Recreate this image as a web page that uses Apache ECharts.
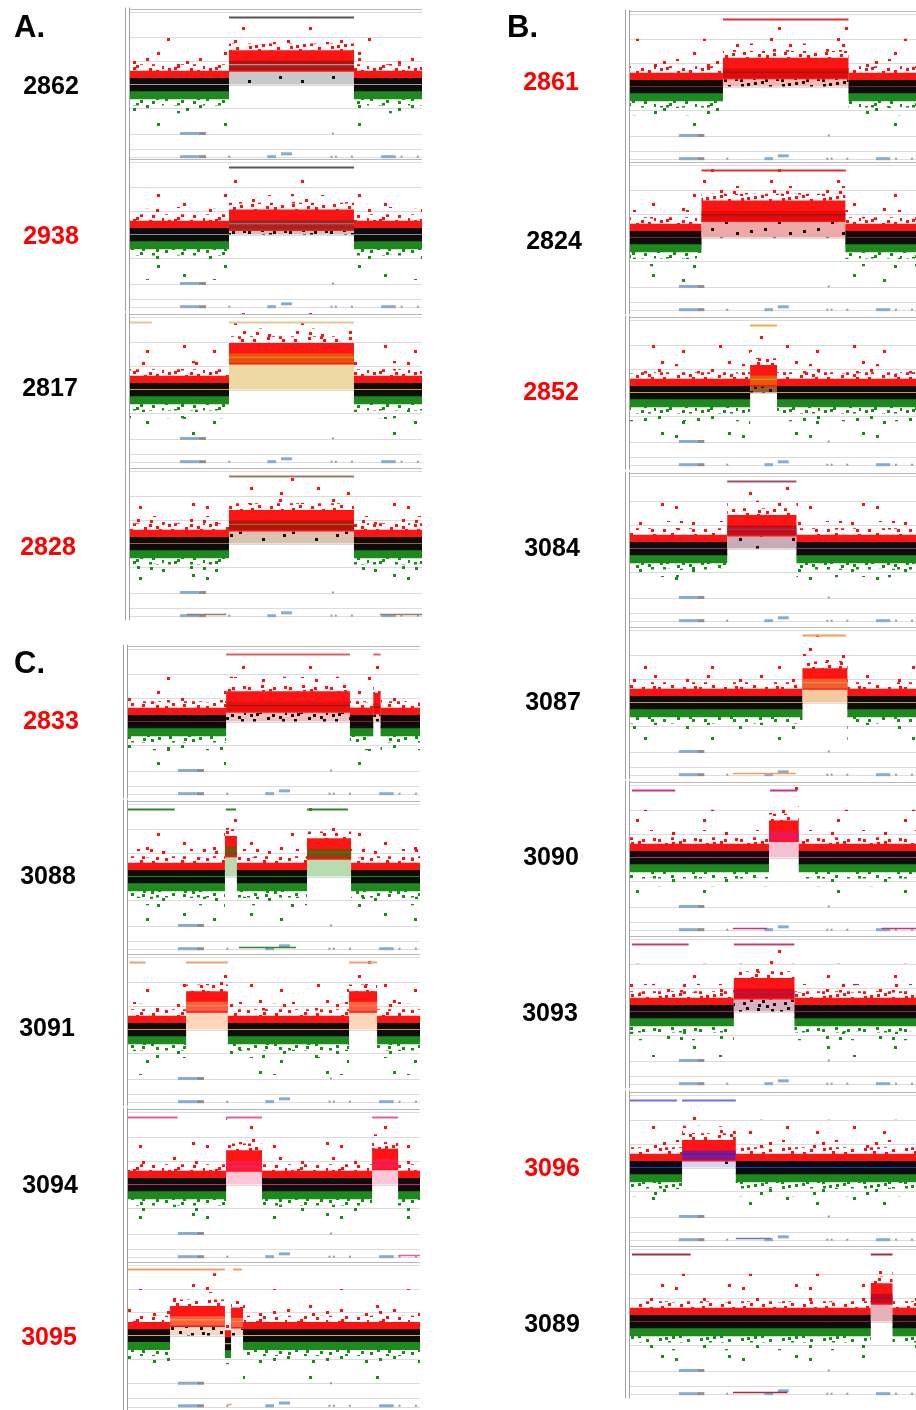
<!DOCTYPE html>
<html><head><meta charset="utf-8">
<script src="https://cdn.jsdelivr.net/npm/echarts@6/dist/echarts.min.js"></script>
<style>html,body{margin:0;padding:0;background:#fff}#c{width:916px;height:1410px}</style>
</head><body><div id="c"></div><script>
// ---------------- DATA ----------------
const SAMPLES_A = ['2862','2938','2817','2828'];
const SAMPLES_B = ['2861','2824','2852','3084','3087','3090','3093','3096','3089'];
const SAMPLES_C = ['2833','3088','3091','3094','3095'];
const RED_LABELS = ['2938','2828','2861','2852','3096','2833','3095'];

// segments: [start %, end %, log2 ratio level]
const SEG_2862 = [[0,33.9,0],[33.9,76.7,0.83],[76.7,100,0]];
const SEG_2938 = [[0,33.9,0],[33.9,76.7,0.45],[76.7,100,0]];
const SEG_2817 = [[0,33.9,0],[33.9,76.7,1.35],[76.7,100,0]];
const SEG_2828 = [[0,33.9,0],[33.9,76.7,0.8],[76.7,100,0]];
const SEG_2861 = [[0,32.5,0],[32.5,76.4,0.6],[76.4,100,0]];
const SEG_2824 = [[0,25,0],[25,75.3,0.95],[75.3,100,0]];
const SEG_2852 = [[0,42,0],[42,51.4,0.55],[51.4,100,0]];
const SEG_3084 = [[0,34,0],[34,58.2,0.8],[58.2,100,0]];
const SEG_3087 = [[0,60.3,0],[60.3,76,0.83],[76,100,0]];
const SEG_3090 = [[0,48.6,0],[48.6,59,0.95],[59,100,0]];
const SEG_3093 = [[0,36.3,0],[36.3,57.5,0.8],[57.5,100,0]];
const SEG_3096 = [[0,18.2,0],[18.2,37,0.55],[37,100,0]];
const SEG_3089 = [[0,84.2,0],[84.2,91.8,1.0],[91.8,100,0]];
const SEG_2833 = [[0,33.6,0],[33.6,76,0.67],[76,84,0],[84,86.5,0.6],[86.5,100,0]];
const SEG_3088 = [[0,33.2,0],[33.2,37.3,1.1],[37.3,61.3,0],[61.3,76.4,1.0],[76.4,100,0]];
const SEG_3091 = [[0,19.9,0],[19.9,34.2,1.0],[34.2,75.7,0],[75.7,85.3,1.0],[85.3,100,0]];
const SEG_3094 = [[0,33.6,0],[33.6,45.9,0.83],[45.9,83.6,0],[83.6,92.5,0.9],[92.5,100,0]];
const SEG_3095 = [[0,14.4,0],[14.4,33.2,0.67],[33.2,35.3,-0.35],[35.3,39.4,0.6],[39.4,100,0]];

// aberration call bars at top of each panel: [start %, end %]
const TOP_2862 = [[33.9,76.7]];
const TOP_2938 = [[33.9,76.7]];
const TOP_2817 = [[0,7.5],[33.9,76.7]];
const TOP_2828 = [[33.9,76.7]];
const TOP_2861 = [[32.5,76.4]];
const TOP_2824 = [[25,75.3]];
const TOP_2852 = [[42,51.4]];
const TOP_3084 = [[34,58.2]];
const TOP_3087 = [[60.3,75.5]];
const TOP_3090 = [[0.7,15.8],[49,58.5]];
const TOP_3093 = [[0.7,20.5],[36.3,57.5]];
const TOP_3096 = [[0,16.4],[18.2,37]];
const TOP_3089 = [[0.7,21.2],[84.2,91.8]];
const TOP_2833 = [[33.6,76],[84,86.5]];
const TOP_3088 = [[0,16],[33.5,37],[61.3,75.3]];
const TOP_3091 = [[0.5,6],[19.9,34.2],[75.7,85.3]];
const TOP_3094 = [[0,17],[33.6,45.9],[83.6,92.5]];
const TOP_3095 = [[0,33.2],[36,39]];

// call bars in the bottom (gene) track: [start %, end %]
const BOT_2828 = [[19.5,33],[85.6,100]];
const BOT_3087 = [[36,58]];
const BOT_3090 = [[36,48],[88,100]];
const BOT_3096 = [[37,49.3]];
const BOT_3089 = [[36,55]];
const BOT_3088 = [[38,57.5]];
const BOT_3094 = [[92.5,100]];
const BOT_3095 = [[34,35.5]];

// y gridlines (log2 ratio) and gene track
const GRID_LEVELS = [3.15, 3.03, 2, 1, 0, -1, -2.05, -2.68, -3.05];
const GENE_BARS = [[17.1,23.5,-2.05],[17.1,23.5,-3.02],[47,50,-3.02],[51.7,55.5,-2.9],[86,91,-3.02]];
const GENE_GRAY = [[23.5,26,-2.05],[23.5,26,-3.02]];
const GENE_DOTS = [[69.5,-2.05],[34,-3.02],[69,-3.02],[70.5,-3.02],[76,-3.02],[93,-3.02],[98.6,-3.02]];

// ---------------- LAYOUT / STYLE ----------------
const SEGS = {'2862':SEG_2862,'2938':SEG_2938,'2817':SEG_2817,'2828':SEG_2828,'2861':SEG_2861,'2824':SEG_2824,'2852':SEG_2852,'3084':SEG_3084,'3087':SEG_3087,'3090':SEG_3090,'3093':SEG_3093,'3096':SEG_3096,'3089':SEG_3089,'2833':SEG_2833,'3088':SEG_3088,'3091':SEG_3091,'3094':SEG_3094,'3095':SEG_3095};
const TOPS = {'2862':TOP_2862,'2938':TOP_2938,'2817':TOP_2817,'2828':TOP_2828,'2861':TOP_2861,'2824':TOP_2824,'2852':TOP_2852,'3084':TOP_3084,'3087':TOP_3087,'3090':TOP_3090,'3093':TOP_3093,'3096':TOP_3096,'3089':TOP_3089,'2833':TOP_2833,'3088':TOP_3088,'3091':TOP_3091,'3094':TOP_3094,'3095':TOP_3095};
const BOTS = {'2828':BOT_2828,'3087':BOT_3087,'3090':BOT_3090,'3096':BOT_3096,'3089':BOT_3089,'3088':BOT_3088,'3094':BOT_3094,'3095':BOT_3095};

const STYLE = {
 '2862':{avg:'#9a9a9a',fill:'#c8c8c8',inner:'rgba(150,20,20,0.75)',top:'#555555',dark:0.4},
 '2938':{avg:'#8a8a8a',fill:'#c4c4c4',inner:'rgba(120,40,40,0.6)',top:'#555555',dark:1},
 '2817':{avg:'#d4a017',fill:'#efd9a3',inner:'rgba(230,90,10,0.85)',top:'#e6c88c',dark:0},
 '2828':{avg:'#a0651a',fill:'#d9c2b0',inner:'rgba(150,20,10,0.7)',top:'#a07a60',dark:0.5},
 '2861':{avg:'#8b1a1a',fill:'#f2b8b8',inner:'rgba(200,0,0,0.45)',top:'#e03030',dark:1},
 '2824':{avg:'#8b1a1a',fill:'#eea8a8',inner:'rgba(200,0,0,0.45)',top:'#e03030',dark:0.4},
 '2852':{avg:'#c8a030',fill:'#9a6030',inner:'rgba(230,100,10,0.85)',top:'#e8b040',dark:1},
 '3084':{avg:'#9a3a60',fill:'#c9aab8',inner:'rgba(160,10,30,0.65)',top:'#a05068',dark:0.4},
 '3087':{avg:'#d09a40',fill:'#f3c9a0',inner:'rgba(240,110,50,0.8)',top:'#f0a050',dark:0},
 '3090':{avg:'#d0207a',fill:'#f6c0d4',inner:'rgba(240,20,90,0.7)',top:'#d03080',dark:0},
 '3093':{avg:'#a02055',fill:'#d8b0c0',inner:'rgba(180,0,40,0.55)',top:'#c04070',dark:1},
 '3096':{avg:'#2030d0',fill:'#d4d4f4',inner:'rgba(110,20,170,0.75)',top:'#7070e0',dark:0.4},
 '3089':{avg:'#8b1a2a',fill:'#e8b0b8',inner:'rgba(170,0,40,0.6)',top:'#a03040',dark:0},
 '2833':{avg:'#8b1a1a',fill:'#f2c0c0',inner:'rgba(200,0,0,0.35)',top:'#e06060',dark:1},
 '3088':{avg:'#1e8a1e',fill:'#b8dcb0',inner:'rgba(130,70,10,0.85)',top:'#2a8a2a',dark:0},
 '3091':{avg:'#d09050',fill:'#ffd4b8',inner:'rgba(255,110,80,0.8)',top:'#f0a070',dark:0},
 '3094':{avg:'#d02070',fill:'#ffc4d8',inner:'rgba(255,30,80,0.7)',top:'#e060a0',dark:0},
 '3095':{avg:'#e0a050',fill:'#f0d8c8',inner:'rgba(255,120,80,0.75)',top:'#f0a060',dark:1}
};

const LAYOUT = {};
[[SAMPLES_A,130,[8,158,313,467],[51,51,50,48],[87,237,389,548]],
 [SAMPLES_B,630,[10,161,316,472,626,781,935,1091,1245],[551,554,551,552,553,551,550,552,552],[83,242,393,549,703,858,1014,1169,1325]],
 [SAMPLES_C,128,[645,800,953,1108,1261],[51,48,47,50,49],[722,877,1029,1186,1338]]
].forEach(([names,left,tops,lx,ly]) => names.forEach((n,i)=>{LAYOUT[n]={left,top:tops[i],lx:lx[i],ly:ly[i]};}));

const PANEL_W = 292, PANEL_H = 153, TOP_Y = 2.84, BOT_Y = -2.93;

// dotted textures to suggest scattered probes (fixed hand-placed tiles)
function dotPattern(color, w, h, pts, s){
  const cv = document.createElement('canvas'); cv.width=w; cv.height=h;
  const ctx = cv.getContext('2d'); ctx.fillStyle=color;
  pts.forEach(p=>ctx.fillRect(p[0],p[1],s,s));
  return {image:cv, repeat:'repeat'};
}
const MED_PTS = [[2,3],[9,7],[15,1],[23,5],[31,9],[38,2],[5,14],[12,11],[20,16],[27,3],[35,15],[1,22],[8,19],[17,24],[24,12],[33,21],[39,28],[4,30],[13,27],[21,33],[29,25],[36,35],[7,35],[16,6],[26,30],[33,32],[19,20],[10,29],[28,17],[3,8]];
const SPARSE_PTS = [[3,5],[27,14],[44,3],[14,29],[36,33],[50,21],[8,42],[22,40],[47,44],[31,2],[18,17],[40,11]];
const VSPARSE_PTS = [[5,9],[41,27],[23,52],[58,6],[12,66],[49,61],[33,38]];
const PAT_RED_MED = dotPattern('#ff1010',41,38,MED_PTS,3);
const PAT_RED_SP = dotPattern('#ff1010',53,47,SPARSE_PTS,3);
const PAT_RED_VSP = dotPattern('#ff1010',67,71,VSPARSE_PTS,3);
const PAT_GREEN_MED = dotPattern('#1a8a1a',41,38,MED_PTS,3);
const PAT_GREEN_SP = dotPattern('#1a8a1a',53,47,SPARSE_PTS,3);
const PAT_GREEN_VSP = dotPattern('#1a8a1a',67,71,VSPARSE_PTS,3);
const PAT_BLACK_MED = dotPattern('#111111',41,38,MED_PTS,3);
const PAT_BLACK_SP = dotPattern('#111111',53,47,SPARSE_PTS,3);

function segRender(S){
  return function(params, api){
    const x0=api.value(0), x1=api.value(1), L=api.value(2);
    const X0=api.coord([x0,0])[0], X1=api.coord([x1,0])[0], W=X1-X0;
    const Y=v=>api.coord([0,v])[1];
    const R=(a,b,fill)=>({type:'rect', shape:{x:X0,y:Y(b),width:W,height:Y(a)-Y(b)}, style:{fill}});
    const ch=[];
    if (L < 0.2) {
      ch.push(R(L+1.1,L+2.0,PAT_RED_VSP));
      ch.push(R(L+0.8,L+1.15,PAT_RED_SP));
      ch.push(R(L+0.55,L+0.85,PAT_RED_MED));
      ch.push(R(L-0.88,L-0.58,PAT_GREEN_MED));
      ch.push(R(L-1.2,L-0.85,PAT_GREEN_SP));
      ch.push(R(L-1.9,L-1.15,PAT_GREEN_VSP));
      ch.push(R(L+0.22,L+0.58,'#ff1414'));
      ch.push(R(L-0.62,L-0.22,'#1c8a1c'));
      ch.push(R(L-0.28,L+0.27,'#0c0c0c'));
    } else {
      ch.push(R(0,L,S.fill));
      if (S.dark) ch.push(R(0,Math.max(0.12,L-0.3), S.dark>=1 ? PAT_BLACK_MED : PAT_BLACK_SP));
      ch.push(R(L+1.15,L+2.0,PAT_RED_VSP));
      ch.push(R(L+0.85,L+1.2,PAT_RED_SP));
      ch.push(R(L+0.57,L+0.88,PAT_RED_MED));
      ch.push(R(L-0.3,L+0.6,'#ff1414'));
      ch.push(R(L-0.24,L+0.16,S.inner));
    }
    const ya=Y(L);
    ch.push({type:'line', shape:{x1:X0,y1:ya,x2:X1,y2:ya}, style:{stroke:S.avg,lineWidth:1.2}});
    return {type:'group', children:ch};
  };
}
function hLineRender(yv, color, lw){
  return function(params, api){
    const a=api.coord([api.value(0), yv]), b=api.coord([api.value(1), yv]);
    const y=Math.round(a[1])+0.5;
    return {type:'line', shape:{x1:a[0],y1:y,x2:b[0],y2:y}, style:{stroke:color,lineWidth:lw}};
  };
}

const ALL = SAMPLES_A.concat(SAMPLES_B, SAMPLES_C);
const option = {animation:false, backgroundColor:'#fff', grid:[], xAxis:[], yAxis:[], series:[], graphic:[]};

ALL.forEach((name, i) => {
  const Lo = LAYOUT[name], S = STYLE[name];
  option.grid.push({left:Lo.left, top:Lo.top, width:PANEL_W, height:PANEL_H});
  option.xAxis.push({type:'value', gridIndex:i, min:0, max:100, show:false});
  [1,5].forEach(off => option.yAxis.push({type:'value', gridIndex:i, min:-3.2, max:3.2, offset:off, position:'left',
     axisLine:{show:true, onZero:false, lineStyle:{color:'#a0a0a0', width:1}}, axisTick:{show:false},
     axisLabel:{show:false}, splitLine:{show:false}}));
  const yi = 2*i;
  option.series.push({type:'custom', xAxisIndex:i, yAxisIndex:yi, silent:true,
    data: GRID_LEVELS.map(v=>[0,100,v]), encode:{x:[0,1], y:2},
    renderItem:(p, api)=>{ const v=api.value(2); const a=api.coord([0,v]), b=api.coord([100,v]); const y=Math.round(a[1])+0.5;
      return {type:'line', shape:{x1:a[0],y1:y,x2:b[0],y2:y}, style:{stroke: v>3.1 ? '#b8b8b8' : '#dcdcdc', lineWidth:1}}; }});
  option.series.push({type:'custom', xAxisIndex:i, yAxisIndex:yi, silent:true,
    data: GENE_BARS, encode:{x:[0,1], y:2},
    renderItem:(p, api)=>{ const a=api.coord([api.value(0),api.value(2)]), b=api.coord([api.value(1),api.value(2)]);
      return {type:'rect', shape:{x:a[0],y:a[1]-1.5,width:b[0]-a[0],height:3}, style:{fill:'#86acd2'}}; }});
  option.series.push({type:'custom', xAxisIndex:i, yAxisIndex:yi, silent:true,
    data: GENE_GRAY, encode:{x:[0,1], y:2},
    renderItem:(p, api)=>{ const a=api.coord([api.value(0),api.value(2)]), b=api.coord([api.value(1),api.value(2)]);
      return {type:'rect', shape:{x:a[0],y:a[1]-1.5,width:b[0]-a[0],height:3}, style:{fill:'#8e8e8e'}}; }});
  option.series.push({type:'custom', xAxisIndex:i, yAxisIndex:yi, silent:true,
    data: GENE_DOTS, encode:{x:0, y:1},
    renderItem:(p, api)=>{ const a=api.coord([api.value(0),api.value(1)]);
      return {type:'rect', shape:{x:a[0]-1,y:a[1]-1,width:2,height:2}, style:{fill:'#9a9a9a'}}; }});
  option.series.push({type:'custom', xAxisIndex:i, yAxisIndex:yi, silent:true, clip:true,
    data: SEGS[name], encode:{x:[0,1], y:2}, renderItem: segRender(S)});
  option.series.push({type:'custom', xAxisIndex:i, yAxisIndex:yi, silent:true,
    data: TOPS[name], encode:{x:[0,1]}, renderItem: hLineRender(TOP_Y, S.top, 2)});
  if (BOTS[name]) option.series.push({type:'custom', xAxisIndex:i, yAxisIndex:yi, silent:true,
    data: BOTS[name], encode:{x:[0,1]}, renderItem: hLineRender(BOT_Y, S.top, 1.5)});
  option.graphic.push({type:'text', x:Lo.lx, y:Lo.ly, silent:true,
    style:{text:name, font:'bold 25px "Liberation Sans", Arial, sans-serif',
      fill: RED_LABELS.includes(name) ? '#ff0000' : '#000000', align:'center', verticalAlign:'middle'}});
});

[['A.',14,28],['B.',507,28],['C.',14,664]].forEach(([t,x,y]) => option.graphic.push({type:'text', x, y, silent:true,
  style:{text:t, font:'bold 31px "Liberation Sans", Arial, sans-serif', fill:'#000', align:'left', verticalAlign:'middle'}}));

const chart = echarts.init(document.getElementById('c'), null, {renderer:'canvas'});
chart.setOption(option);
</script></body></html>
